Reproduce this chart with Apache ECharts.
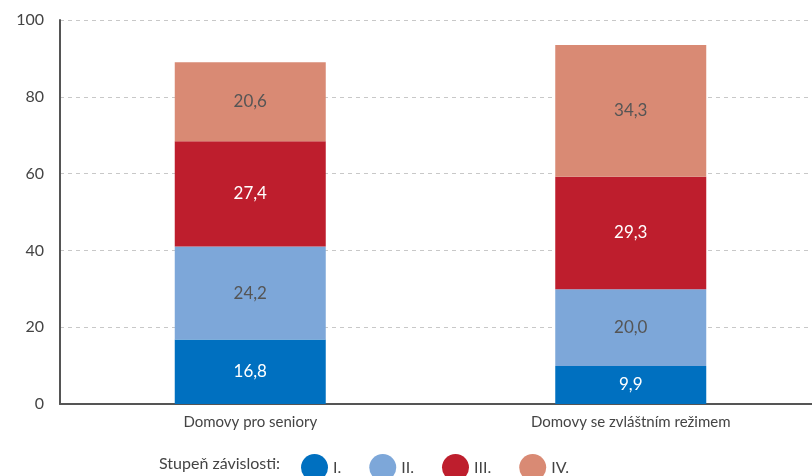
<!DOCTYPE html>
<html>
<head>
<meta charset="utf-8">
<script src="https://cdn.jsdelivr.net/npm/echarts@6/dist/echarts.min.js"></script>
<style>
  html, body { margin: 0; padding: 0; background: #fff; }
  #chart { width: 812px; height: 476px; }
</style>
</head>
<body>
<div id="chart"></div>
<script>
  var categories = ['Domovy pro seniory', 'Domovy se zvláštním režimem'];
  var seriesNames = ['I.', 'II.', 'III.', 'IV.'];
  var stupen1 = [16.8, 9.9];
  var stupen2 = [24.2, 20.0];
  var stupen3 = [27.4, 29.3];
  var stupen4 = [20.6, 34.3];
  var colors = ['#0070c0', '#7da7d9', '#be1e2d', '#d98a74'];
  var labelColors = ['#ffffff', '#555555', '#ffffff', '#555555'];
  var font = 'Lato, "DejaVu Sans", sans-serif';

  function fmt(p) {
    return p.value.toFixed(1).replace('.', ',');
  }

  var chart = echarts.init(document.getElementById('chart'));
  var allData = [stupen1, stupen2, stupen3, stupen4];

  chart.setOption({
    animation: false,
    textStyle: { fontFamily: font },
    title: {
      text: 'Stupeň závislosti:',
      left: 154,
      top: 451,
      textStyle: { fontSize: 16, fontWeight: 'normal', color: '#444', fontFamily: font }
    },
    legend: {
      left: 296,
      top: 449,
      icon: 'circle',
      itemWidth: 27,
      itemHeight: 27,
      itemGap: 28,
      data: seriesNames,
      textStyle: { fontSize: 16, color: '#444', fontFamily: font }
    },
    grid: {
      left: 60,
      top: 20,
      bottom: 72,
      right: -9,
      outerBoundsMode: 'none'
    },
    xAxis: {
      type: 'category',
      data: categories,
      axisLine: { lineStyle: { color: '#555', width: 2 } },
      axisTick: { show: false },
      axisLabel: { fontSize: 15, color: '#444', margin: 11 }
    },
    yAxis: {
      type: 'value',
      min: 0,
      max: 100,
      interval: 20,
      axisLine: { show: true, lineStyle: { color: '#555', width: 2 } },
      axisTick: { show: false },
      axisLabel: { fontSize: 16, color: '#444', margin: 16 },
      splitLine: { lineStyle: { color: '#c8c8c8', type: [4, 4] } }
    },
    series: seriesNames.map(function (name, i) {
      return {
        name: name,
        type: 'bar',
        stack: 'total',
        barWidth: 151,
        data: allData[i],
        itemStyle: { color: colors[i] },
        label: {
          show: true,
          position: 'inside',
          formatter: fmt,
          color: labelColors[i],
          fontSize: 17,
          fontFamily: font
        }
      };
    })
  });
</script>
</body>
</html>
